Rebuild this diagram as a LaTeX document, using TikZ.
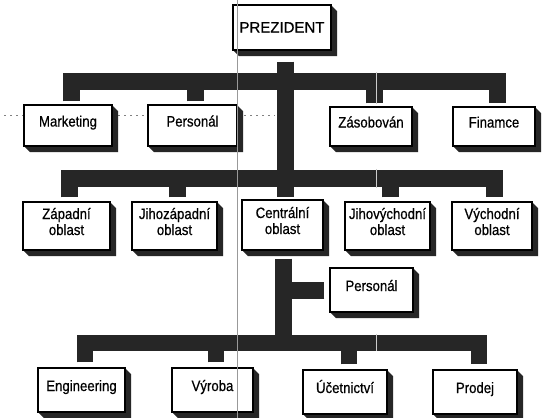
\documentclass[tikz,border=0pt]{standalone}
\usepackage{fontspec}
\setmainfont{Liberation Sans}[FakeStretch=0.88, FakeBold=0.6]
\newfontfamily\headfont{Liberation Sans}[FakeBold=0.6]
\begin{document}
\begin{tikzpicture}[x=1pt,y=-1pt,
  box/.style={draw=black, line width=1.1pt, fill=white, inner sep=0pt,
    font=\fontsize{15}{16}\selectfont, align=center,
    text height=10pt, text depth=8pt},
  twoline/.style={box, text height=26pt},
  topbox/.style={box, font=\headfont\fontsize{15}{17}\selectfont, text depth=0pt},
  bar/.style={draw=black!85, line width=17pt, line cap=butt, line join=miter},
  lowbar/.style={bar, line width=16pt},
  extrusion/.style={fill=black!85},
  scanline/.style={black!40, line width=0.7pt},
  foldline/.style={white!80!black, line width=0.8pt},
  guideline/.style={black!50, line width=0.6pt, dash pattern=on 1.5pt off 4.5pt}
]
% page
\fill[white] (0,0) rectangle (542,418);
\useasboundingbox (0,0) rectangle (542,418);

% box with a raised 3D edge on its right and bottom:
% [style]{name}{centre x}{centre y}{width}{height}{text}
\newcommand\orgbox[7][box]{%
  \pgfmathsetmacro\bxl{#3-#5/2}\pgfmathsetmacro\bxr{#3+#5/2}%
  \pgfmathsetmacro\bxt{#4-#6/2}\pgfmathsetmacro\bxb{#4+#6/2}%
  \fill[extrusion] (\bxr,\bxt) -- (\bxr+6,\bxt+6) -- (\bxr+6,\bxb+6)
    -- (\bxl+6,\bxb+6) -- (\bxl,\bxb) -- cycle;
  \node[#1, minimum width=#5pt, minimum height=#6pt] (#2) at (#3,#4) {#7};
}

% faint ruled line behind the boxes
\draw[guideline] (4,115) -- (275,115);

% the boxes
\orgbox[topbox]{pres}{282}{27.5}{98}{45}{PREZIDENT}
\orgbox{mkt}{68}{125.5}{88}{41}{Marketing}
\orgbox{per}{192.5}{125.5}{89}{41}{Personál}
\orgbox{zas}{371}{126.5}{82}{39}{Zásobován}
\orgbox{fin}{494}{126.5}{82}{39}{Finamce}
\orgbox[twoline]{zap}{66.5}{226}{87}{48}{Západní\\oblast}
\orgbox[twoline]{jz}{174.5}{226}{85}{48}{Jihozápadní\\oblast}
\orgbox[twoline]{cen}{282.5}{225}{81}{50}{Centrální\\oblast}
\orgbox[twoline]{jv}{387.5}{226}{85}{48}{Jihovýchodní\\oblast}
\orgbox[twoline]{vy}{492}{226}{80}{48}{Východní\\oblast}
\orgbox{per2}{371.5}{290}{83}{44}{Personál}
\orgbox{eng}{81.5}{390}{87}{44}{Engineering}
\orgbox{vyr}{212.5}{390}{81}{44}{Výroba}
\orgbox{uce}{345}{392}{84}{44}{Účetnictví}
\orgbox{pro}{475}{392}{84}{44}{Prodej}

% levels of the horizontal bars and the trunk
\coordinate (L1) at (0,81.5);
\coordinate (L2) at (0,178.5);
\coordinate (L3) at (0,342.5);
\coordinate (tx) at (285.5,0);
\coordinate (ty) at (283.5,0);

% drop points above the boxes
\foreach \n/\s in {mkt/3,per/3,zas/3,fin/3,zap/2.5,jz/2.5,jv/2.5,vy/2.5,eng/3.5,vyr/3.5,uce/3.5,pro/3.5}
  \coordinate (\n-d) at ([xshift=\s pt]\n.north);

% trunk from the president down to the central region
\draw[bar, shorten <=11pt, shorten >=2pt] (pres.south -| tx) -- (cen.north -| tx);
% first level
\draw[bar, shorten <=3pt, shorten >=3pt] (mkt-d) -- (mkt-d |- L1) -- (fin-d |- L1) -- (fin-d);
\draw[bar, shorten <=3pt] (per-d) -- (per-d |- L1);
\draw[bar, shorten <=3pt] (zas-d) -- (zas-d |- L1);
% regions
\draw[bar, shorten <=4pt, shorten >=4pt] (zap-d) -- (zap-d |- L2) -- (vy-d |- L2) -- (vy-d);
\draw[bar, shorten <=4pt] (jz-d) -- (jz-d |- L2);
\draw[bar, shorten <=4pt] (jv-d) -- (jv-d |- L2);
% below the central region
\draw[bar, shorten <=8pt] (cen.south -| ty) -- (ty |- L3);
\draw[bar, shorten <=5pt] (per2.west) -- (per2.west -| ty);
\draw[lowbar, shorten <=5pt, shorten >=5pt] (eng-d) -- (eng-d |- L3) -- (pro-d |- L3) -- (pro-d);
\draw[lowbar, shorten <=5pt] (vyr-d) -- (vyr-d |- L3);
\draw[lowbar, shorten <=5pt] (uce-d) -- (uce-d |- L3);

% fold in the sheet, showing through the dark bars
\draw[foldline] (376,72) -- (376,104);
\draw[foldline] (376,169) -- (376,188);
\draw[foldline] (376,334) -- (376,351);

% scanner streak across the sheet
\draw[scanline] (237,0) -- (237,418);
\end{tikzpicture}
\end{document}
